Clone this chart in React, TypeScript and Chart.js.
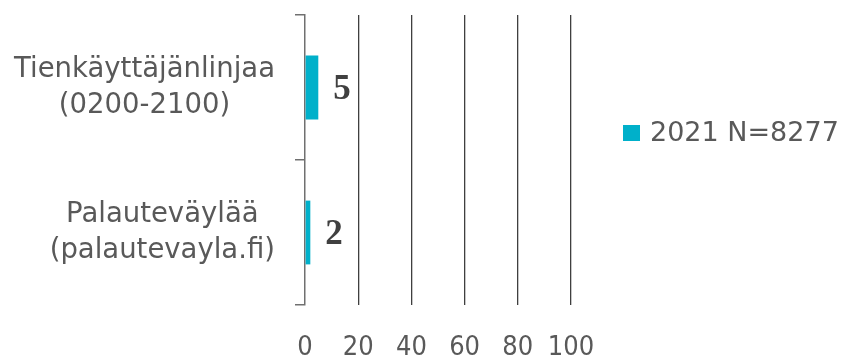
import React, { useEffect, useRef } from 'react';
import { Chart, registerables } from 'chart.js';

Chart.register(...registerables);

const categories: string[][] = [
  ['Tienkäyttäjänlinjaa', '(0200-2100)'],
  ['Palauteväylää', '(palautevayla.fi)'],
];
const seriesLabel = '2021 N=8277';
const values: number[] = [5, 2];
const xTickValues: number[] = [0, 20, 40, 60, 80, 100];

const FONT = "'DejaVu Sans', sans-serif";
const FONT_COND = "'DejaVu Sans Condensed', 'DejaVu Sans', sans-serif";
const TEXT = '#595959';
const BAR = '#00B0CA';
const GRID = '#3f3f3f';
const AXIS = '#707070';

const yLabelsPlugin = {
  id: 'yLabels',
  afterDraw(chart: any) {
    const ctx = chart.ctx;
    const scale = chart.scales.y;
    ctx.save();
    ctx.font = `27.5px ${FONT}`;
    ctx.fillStyle = TEXT;
    ctx.textAlign = 'center';
    ctx.textBaseline = 'middle';
    const lh = 36;
    const right = scale.right - 30;
    categories.forEach((lines, i) => {
      const y = scale.getPixelForTick(i);
      const w = Math.max(...lines.map((l) => ctx.measureText(l).width));
      const cx = right - w / 2;
      lines.forEach((l, j) => {
        ctx.fillText(l, cx, y + (j - (lines.length - 1) / 2) * lh);
      });
    });
    ctx.restore();
  },
};

const dataLabelsPlugin = {
  id: 'dataLabels',
  afterDatasetsDraw(chart: any) {
    const ctx = chart.ctx;
    const meta = chart.getDatasetMeta(0);
    ctx.save();
    ctx.font = `bold 35px 'Liberation Serif', 'DejaVu Serif', serif`;
    ctx.fillStyle = '#404040';
    ctx.textAlign = 'left';
    ctx.textBaseline = 'middle';
    meta.data.forEach((bar: any, i: number) => {
      ctx.fillText(String(values[i]), bar.x + 15, bar.y + 2);
    });
    ctx.restore();
  },
};

const legendPlugin = {
  id: 'customLegend',
  afterDraw(chart: any) {
    const ctx = chart.ctx;
    const x0 = chart.chartArea.right + 52;
    const yc = 133;
    ctx.save();
    ctx.fillStyle = BAR;
    ctx.fillRect(x0, yc - 8, 17, 16);
    ctx.font = `27px ${FONT}`;
    ctx.fillStyle = TEXT;
    ctx.textAlign = 'left';
    ctx.textBaseline = 'middle';
    ctx.fillText(seriesLabel, x0 + 27, yc + 1);
    ctx.restore();
  },
};

export default function App() {
  const ref = useRef<HTMLCanvasElement | null>(null);

  useEffect(() => {
    if (!ref.current) return;
    const chart = new Chart(ref.current, {
      type: 'bar',
      data: {
        labels: categories.map((c) => c.join(' ')),
        datasets: [
          {
            label: seriesLabel,
            data: values,
            backgroundColor: BAR,
            borderWidth: 0,
            barPercentage: 0.44,
            categoryPercentage: 1,
          },
        ],
      },
      options: {
        indexAxis: 'y',
        animation: false,
        responsive: false,
        layout: { padding: { top: 15, right: 271, left: 0, bottom: 0 } },
        plugins: {
          legend: { display: false },
          tooltip: { enabled: false },
        },
        scales: {
          x: {
            min: 0,
            max: 100,
            afterBuildTicks: (scale: any) => {
              scale.ticks = xTickValues.map((v) => ({ value: v }));
            },
            ticks: {
              color: TEXT,
              font: { family: FONT_COND, size: 27 },
              padding: 27,
              maxRotation: 0,
            },
            grid: {
              color: (c: any) => (c.index === 0 ? 'rgba(0,0,0,0)' : GRID),
              lineWidth: 1.3,
              drawTicks: false,
            },
            border: { display: false },
            afterFit: (scale: any) => {
              scale.height = 54;
            },
          },
          y: {
            offset: true,
            ticks: { display: false },
            grid: {
              display: true,
              drawOnChartArea: false,
              drawTicks: true,
              tickLength: 10,
              offset: true,
              color: AXIS,
              lineWidth: 1.5,
            },
            border: { display: true, color: AXIS, width: 1.5 },
            afterFit: (scale: any) => {
              scale.width = 305;
            },
          },
        },
      },
      plugins: [yLabelsPlugin, dataLabelsPlugin, legendPlugin],
    } as any);
    return () => chart.destroy();
  }, []);

  return (
    <div style={{ position: 'fixed', left: 0, top: 0, width: 842, height: 359, background: '#fff' }}>
      <canvas ref={ref} width={842} height={359} style={{ display: 'block' }} />
    </div>
  );
}
